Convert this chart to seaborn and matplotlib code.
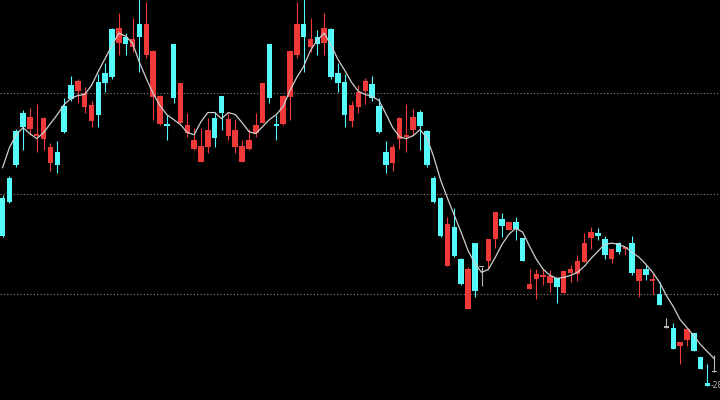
import matplotlib
matplotlib.use("Agg")
import matplotlib.pyplot as plt
import numpy as np
import pandas as pd
import seaborn as sns

# daily prices
open_ = [29.96, 30.16, 30.63, 30.81, 30.65, 30.58, 30.55, 30.31, 30.42, 30.88,
         31.08, 31.02, 30.87, 30.73, 31.11, 31.20, 31.64, 31.50, 31.56, 31.46,
         31.69, 31.38, 30.96, 30.70, 30.70, 31.49, 30.71, 30.61, 30.45, 30.32,
         30.47, 30.76, 30.97, 30.58, 30.47, 30.32, 30.45, 30.61, 30.71, 31.49,
         30.70, 30.70, 30.96, 31.38, 31.69, 31.46, 31.56, 31.50, 31.64, 31.20,
         31.11, 30.73, 30.87, 31.02, 31.09, 30.88, 30.42, 30.31, 30.55, 30.57,
         30.64, 30.82, 30.63, 30.16, 29.96, 29.28, 29.67, 29.35, 28.86, 29.51,
         29.27, 29.33, 29.55, 29.75, 29.64, 29.72, 29.56, 29.05, 29.15, 29.17,
         29.11, 29.16, 29.01, 29.21, 29.20, 29.32, 29.56, 29.61, 29.55, 29.35,
         29.51, 29.45, 29.51, 29.13, 29.25, 29.13, 29.00, 28.67, 28.67, 28.49,
         28.55, 28.62, 28.38, 28.12, 28.23]
high = [29.99, 30.18, 30.65, 30.84, 30.86, 30.90, 30.77, 30.51, 30.53, 30.95,
        31.17, 31.14, 31.06, 30.93, 31.19, 31.30, 31.65, 31.80, 31.60, 31.75,
        31.95, 31.91, 31.43, 30.98, 30.79, 31.49, 31.10, 30.81, 30.66, 30.66,
        30.76, 30.82, 30.97, 30.81, 30.75, 30.54, 30.65, 30.81, 31.10, 31.49,
        30.79, 30.98, 31.43, 31.91, 31.95, 31.75, 31.63, 31.80, 31.65, 31.30,
        31.19, 30.93, 31.08, 31.15, 31.17, 30.95, 30.53, 30.50, 30.77, 30.90,
        30.85, 30.84, 30.64, 30.18, 29.97, 29.77, 29.86, 29.36, 29.27, 29.51,
        29.27, 29.55, 29.82, 29.81, 29.72, 29.77, 29.56, 29.25, 29.25, 29.25,
        29.24, 29.16, 29.23, 29.29, 29.39, 29.61, 29.67, 29.66, 29.58, 29.45,
        29.52, 29.47, 29.58, 29.25, 29.29, 29.21, 29.12, 28.77, 28.72, 28.53,
        28.66, 28.62, 28.38, 28.31, 28.40]
low = [29.57, 29.91, 30.27, 30.44, 30.59, 30.42, 30.44, 30.23, 30.21, 30.61,
       30.93, 30.91, 30.81, 30.67, 30.67, 31.01, 31.14, 31.38, 31.38, 31.41,
       31.21, 31.35, 30.74, 30.69, 30.54, 30.91, 30.71, 30.57, 30.44, 30.32,
       30.41, 30.47, 30.64, 30.54, 30.41, 30.32, 30.44, 30.57, 30.71, 30.91,
       30.54, 30.69, 30.74, 31.35, 31.21, 31.41, 31.38, 31.38, 31.14, 31.01,
       30.67, 30.67, 30.81, 30.90, 30.93, 30.61, 30.21, 30.23, 30.45, 30.42,
       30.59, 30.44, 30.27, 29.91, 29.57, 29.28, 29.37, 29.09, 28.86, 28.97,
       29.08, 29.26, 29.46, 29.57, 29.64, 29.54, 29.33, 29.05, 28.95, 29.09,
       29.02, 28.92, 29.01, 29.12, 29.13, 29.32, 29.45, 29.54, 29.35, 29.31,
       29.40, 29.39, 29.19, 28.97, 29.14, 29.00, 28.90, 28.67, 28.46, 28.31,
       28.49, 28.44, 28.26, 28.09, 28.23]
close = [29.58, 29.92, 30.29, 30.67, 30.77, 30.60, 30.76, 30.47, 30.29, 30.62,
         30.94, 31.12, 31.00, 30.89, 30.79, 31.10, 31.16, 31.65, 31.49, 31.54,
         31.56, 31.69, 31.42, 30.97, 30.68, 30.95, 31.10, 30.69, 30.54, 30.48,
         30.64, 30.56, 30.81, 30.75, 30.64, 30.48, 30.54, 30.69, 31.10, 30.95,
         30.68, 30.97, 31.42, 31.69, 31.56, 31.54, 31.49, 31.65, 31.16, 31.10,
         30.79, 30.89, 31.01, 31.12, 30.95, 30.62, 30.29, 30.47, 30.76, 30.59,
         30.77, 30.68, 30.29, 29.92, 29.58, 29.70, 29.38, 29.10, 29.25, 29.03,
         29.27, 29.55, 29.82, 29.68, 29.72, 29.65, 29.33, 29.10, 29.20, 29.19,
         29.18, 29.07, 29.23, 29.25, 29.33, 29.51, 29.62, 29.58, 29.39, 29.45,
         29.42, 29.47, 29.21, 29.25, 29.19, 29.15, 28.90, 28.67, 28.46, 28.53,
         28.66, 28.44, 28.26, 28.09, 28.23]
ma = [30.26, 30.46, 30.59, 30.66, 30.60, 30.55, 30.61, 30.70, 30.79, 30.89,
      30.95, 30.98, 30.99, 31.08, 31.22, 31.35, 31.48, 31.60, 31.57, 31.50,
      31.31, 31.15, 31.00, 30.88, 30.79, 30.74, 30.69, 30.61, 30.59, 30.72,
      30.81, 30.81, 30.75, 30.81, 30.79, 30.71, 30.62, 30.60, 30.67, 30.74,
      30.79, 30.87, 31.03, 31.16, 31.27, 31.43, 31.53, 31.60, 31.48, 31.34,
      31.23, 31.11, 31.02, 30.99, 30.97, 30.93, 30.80, 30.66, 30.57, 30.55,
      30.58, 30.64, 30.56, 30.37, 30.14, 29.96, 29.79, 29.62, 29.44, 29.31,
      29.22, 29.25, 29.37, 29.50, 29.60, 29.66, 29.62, 29.48, 29.35, 29.25,
      29.19, 29.16, 29.17, 29.19, 29.22, 29.28, 29.36, 29.43, 29.50, 29.51,
      29.50, 29.47, 29.42, 29.37, 29.30, 29.22, 29.12, 28.99, 28.88, 28.75,
      28.67, 28.59, 28.50, 28.43, 28.36]
low_label = "28.09"

df = pd.DataFrame({"open": open_, "high": high, "low": low, "close": close, "ma": ma})
df["day"] = np.arange(len(df))

UP = "#f03a3a"
DOWN = "#54fcfc"
FLAT = "#b8b8b8"

sns.set_theme(style="dark", rc={"axes.facecolor": "black", "figure.facecolor": "black"})

fig = plt.figure(figsize=(7.2, 4), dpi=100)
ax = fig.add_axes([0, 0, 1, 1])

colors = np.where(df["close"] > df["open"], UP, np.where(df["close"] < df["open"], DOWN, FLAT))

# wicks
ax.vlines(df["day"], df["low"], df["high"], colors=colors, linewidth=0.8, zorder=2)

# bodies
bottom = df[["open", "close"]].min(axis=1)
height = (df["close"] - df["open"]).abs().clip(lower=0.012)
ax.bar(df["day"], height, bottom=bottom, width=0.8, color=colors, linewidth=0, zorder=3)

# moving average
sns.lineplot(data=df, x="day", y="ma", ax=ax, color="#cfcfcf", linewidth=0.9, zorder=4)

# lowest price marker
imin = df["low"].idxmin()
ax.text(imin + 0.5, df["low"][imin], "-" + low_label, color="#bbbbbb", fontsize=5.5,
        va="center", ha="left", zorder=5)

ax.set_xlim(-0.37, 104.83)
ax.set_ylim(27.95, 31.93)
ax.set_yticks([29, 30, 31])
ax.set_xticks([])
ax.grid(axis="y", color="#8a8a8a", linestyle=(0, (1, 2)), linewidth=0.8)
ax.grid(axis="x", visible=False)
ax.tick_params(length=0, labelleft=False, labelbottom=False)
ax.set_xlabel("")
ax.set_ylabel("")
for s in ax.spines.values():
    s.set_visible(False)

fig.savefig("out.png", dpi=100, facecolor="black")
